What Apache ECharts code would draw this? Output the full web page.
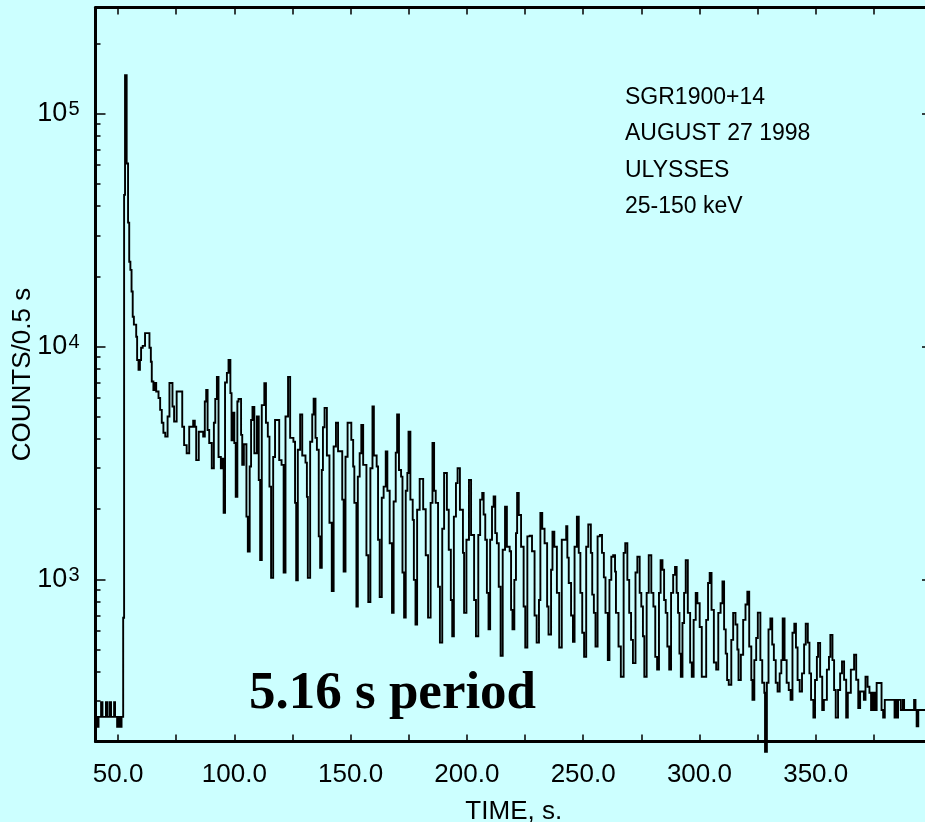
<!DOCTYPE html>
<html>
<head>
<meta charset="utf-8">
<title>SGR1900+14 light curve</title>
<script src="https://cdn.jsdelivr.net/npm/echarts@6/dist/echarts.min.js"></script>
<style>
  html, body { margin: 0; padding: 0; background: #ccffff; }
  #chart { width: 925px; height: 822px; }
</style>
</head>
<body>
<div id="chart"></div>
<script>
// Ulysses 25-150 keV light curve of the SGR1900+14 giant flare (1998 Aug 27).
// Step edges (s) and counts per 0.5 s for each step.
const times = [
  40.5, 40.9, 41.6, 42.7, 43.3, 44.8, 45.3, 46.3, 47.0, 48.3,
  48.7, 49.6, 50.2, 50.9, 51.5, 52.2, 52.6, 53.0, 53.7, 54.3,
  54.8, 55.3, 55.8, 56.3, 56.8, 57.8, 58.2, 58.8, 59.4, 59.9,
  60.6, 61.6, 63.5, 64.1, 64.5, 65.2, 65.9, 66.4, 67.4, 68.1,
  68.8, 69.5, 70.3, 71.3, 72.1, 73.4, 74.1, 75.2, 77.6, 78.4,
  79.5, 80.6, 82.3, 83.0, 83.6, 84.7, 86.6, 87.3, 87.9, 88.5,
  89.2, 90.3, 91.2, 91.8, 92.5, 93.2, 94.2, 94.7, 95.4, 96.0,
  96.8, 97.5, 98.3, 98.8, 99.4, 100.0, 100.6, 101.3, 101.8, 102.9,
  103.4, 104.1, 105.2, 105.8, 106.6, 107.2, 107.8, 108.6, 109.7, 110.5,
  111.1, 111.8, 112.9, 113.6, 114.4, 115.1, 115.8, 116.7, 117.5, 119.3,
  120.3, 121.2, 122.0, 123.1, 124.0, 125.4, 126.1, 126.6, 127.3, 128.3,
  129.2, 130.6, 131.2, 131.6, 132.6, 133.5, 134.1, 134.9, 135.5, 136.3,
  136.9, 137.6, 138.1, 138.8, 139.8, 140.9, 141.9, 142.7, 143.7, 144.6,
  146.4, 147.0, 147.8, 148.7, 150.3, 151.1, 151.6, 152.5, 153.1, 153.9,
  154.6, 155.4, 156.8, 157.6, 158.5, 159.4, 160.0, 161.2, 161.8, 162.5,
  163.4, 164.2, 165.1, 165.8, 166.8, 167.8, 168.5, 169.4, 170.0, 170.8,
  171.7, 172.3, 173.0, 173.7, 174.4, 174.9, 175.7, 176.7, 177.2, 177.9,
  178.6, 179.7, 181.2, 182.3, 183.3, 184.4, 185.2, 185.9, 186.6, 187.6,
  188.4, 189.4, 190.2, 191.4, 192.2, 193.1, 193.7, 194.4, 195.3, 196.0,
  197.0, 198.3, 198.8, 199.8, 200.9, 201.8, 203.1, 203.9, 204.9, 205.7,
  206.6, 207.2, 207.9, 208.6, 209.3, 210.0, 210.8, 211.5, 212.2, 212.9,
  213.7, 214.5, 215.4, 216.4, 217.2, 218.4, 219.0, 219.6, 220.4, 221.1,
  221.6, 222.3, 223.3, 224.4, 225.1, 226.0, 227.0, 228.0, 229.1, 230.0,
  231.0, 231.6, 232.4, 233.4, 234.5, 235.1, 236.2, 236.8, 237.6, 238.7,
  239.7, 240.8, 242.7, 243.2, 243.8, 244.8, 245.6, 246.3, 247.3, 248.1,
  248.8, 249.6, 250.4, 251.3, 252.2, 253.3, 253.9, 254.6, 255.3, 256.2,
  257.2, 258.1, 258.9, 259.6, 260.6, 261.3, 262.1, 262.9, 263.7, 264.1,
  265.2, 266.2, 267.4, 268.1, 269.0, 269.8, 270.6, 271.4, 272.5, 273.3,
  274.3, 275.0, 275.7, 276.3, 277.3, 278.2, 279.3, 280.2, 281.0, 281.8,
  282.6, 283.3, 284.1, 284.8, 285.5, 286.2, 287.0, 287.8, 288.7, 289.5,
  290.2, 290.8, 291.4, 292.0, 292.7, 293.4, 294.1, 295.0, 296.0, 296.7,
  297.5, 298.4, 299.1, 300.1, 301.0, 302.9, 303.7, 304.4, 305.2, 306.2,
  307.2, 308.1, 309.1, 309.9, 310.6, 311.3, 311.9, 312.6, 313.7, 314.5,
  315.5, 316.3, 316.8, 317.8, 318.8, 319.8, 320.6, 321.4, 322.3, 322.8,
  323.6, 324.4, 325.1, 326.2, 327.0, 327.9, 328.2, 329.0, 329.7, 330.5,
  331.3, 332.0, 332.8, 333.6, 334.5, 335.2, 335.8, 336.6, 337.5, 338.4,
  339.2, 340.0, 340.8, 341.5, 342.2, 343.1, 344.1, 345.0, 345.7, 346.6,
  347.3, 348.0, 349.0, 349.7, 350.5, 351.0, 351.9, 352.8, 353.5, 354.8,
  355.7, 356.3, 357.2, 357.9, 358.6, 359.6, 360.5, 361.3, 362.2, 363.1,
  363.8, 365.1, 366.5, 367.4, 368.3, 369.1, 370.7, 371.4, 372.3, 373.1,
  373.8, 374.6, 375.4, 376.2, 378.3, 379.0, 379.7, 383.9, 384.3, 385.0,
  385.4, 386.6, 387.5, 388.0, 392.3, 392.9, 393.4, 394.1, 400.0
];
const counts = [
  257, 233, 257, 297, 257, 297, 257, 297, 257, 297,
  257, 233, 257, 233, 257, 684, 44700, 146000, 61000, 34000,
  23100, 21300, 17200, 13400, 12400, 11000, 8750, 7930, 8750, 9870,
  10050, 11400, 9870, 8600, 7070, 6500, 6970, 6400, 6010, 5340,
  4700, 4260, 4100, 5000, 6970, 5520, 4760, 6400, 4520, 3770,
  3480, 4520, 4800, 4520, 3250, 4300, 4100, 5800, 6500, 4380,
  3850, 3000, 4700, 5950, 7400, 3350, 3000, 3300, 1930, 7000,
  7700, 8750, 6300, 3950, 5200, 3850, 2260, 5800, 5950, 4170,
  3100, 3800, 1860, 1315, 3050, 4830, 5500, 3480, 5000, 2670,
  1210, 5600, 6950, 4700, 4100, 2500, 1015, 3350, 4830, 3250,
  3100, 1070, 5000, 7400, 4050, 3900, 2130, 990, 3600, 5100,
  3400, 3170, 2260, 1015, 3900, 5100, 5970, 4050, 3600, 1530,
  1120, 2950, 4500, 5450, 3400, 1750, 890, 3720, 4700, 3550,
  2200, 1080, 3360, 4700, 3970, 3050, 2130, 765, 2760, 3480,
  4600, 3100, 1270, 800, 3000, 5520, 3400, 3050, 1480, 840,
  2240, 2500, 3540, 2400, 1430, 718, 2160, 3500, 5100, 2950,
  2760, 1070, 685, 2400, 2860, 4300, 2200, 1800, 995, 640,
  1990, 2700, 2000, 1270, 685, 2130, 3850, 2400, 2130, 930,
  535, 1650, 2860, 1990, 1340, 815, 570, 1860, 2590, 3000,
  1990, 1300, 718, 1480, 2670, 1550, 815, 570, 1550, 2200,
  2350, 1900, 1480, 875, 610, 1480, 2050, 2270, 1580, 1430,
  930, 470, 1340, 2050, 1380, 1320, 740, 610, 995, 1580,
  2350, 1890, 1380, 765, 510, 1530, 1540, 1320, 700, 535,
  815, 1930, 1650, 1430, 765, 580, 1100, 1600, 1380, 875,
  510, 1480, 1690, 1240, 965, 700, 540, 1380, 1860, 1300,
  875, 590, 465, 1380, 1720, 1300, 860, 718, 515, 1530,
  1550, 1300, 1020, 718, 450, 995, 1250, 1270, 1080, 718,
  515, 382, 1300, 1430, 995, 718, 550, 437, 1070, 1250,
  875, 765, 570, 382, 875, 1270, 875, 765, 465, 410,
  875, 1210, 1100, 815, 718, 515, 410, 875, 1045, 1130,
  875, 718, 480, 382, 650, 875, 1210, 718, 440, 382,
  670, 875, 790, 625, 382, 670, 965, 1065, 740, 440,
  410, 718, 790, 980, 610, 480, 370, 353, 550, 718,
  640, 500, 370, 475, 670, 780, 886, 515, 370, 304,
  450, 560, 720, 450, 360, 326, 182, 360, 610, 680,
  525, 450, 360, 330, 395, 450, 680, 450, 360, 335,
  304, 590, 645, 510, 370, 330, 395, 525, 645, 535,
  395, 304, 255, 370, 465, 533, 382, 275, 304, 410,
  465, 578, 450, 335, 255, 335, 395, 444, 371, 255,
  326, 410, 475, 371, 280, 330, 304, 382, 346, 326,
  275, 326, 275, 359, 275, 255, 304, 255, 304, 255,
  304, 275, 304, 275, 304, 275, 234, 275, 275
];

// Axis ticks and labels
const timeTicks = [50, 75, 100, 125, 150, 175, 200, 225, 250, 275, 300, 325, 350, 375, 400];
const timeLabels = [50, 100, 150, 200, 250, 300, 350];
const countMajor = [1e3, 1e4, 1e5];
const countMinor = [300, 400, 500, 600, 700, 800, 900,
  2000, 3000, 4000, 5000, 6000, 7000, 8000, 9000,
  20000, 30000, 40000, 50000, 60000, 70000, 80000, 90000, 200000];

const infoLines = ['SGR1900+14', 'AUGUST 27 1998', 'ULYSSES', '25-150 keV'];

const T_MIN = 40.3, T_MAX = 400;
const C_MIN = 201.4, C_MAX = 285000;
const SANS = '"Liberation Sans", Arial, sans-serif';

// Histogram outline: each count holds from its own edge to the next edge.
const histData = [];
for (let i = 0; i < times.length; i++) {
  histData.push([times[i], counts[i]]);
  if (i + 1 < times.length) histData.push([times[i + 1], counts[i]]);
}

const chart = echarts.init(document.getElementById('chart'), null, { renderer: 'canvas' });

function timeAxis(pos, withLabels) {
  return {
    type: 'value', position: pos, min: T_MIN, max: T_MAX,
    axisLine: { show: true, onZero: false, lineStyle: { color: '#000', width: 3 } },
    axisTick: { show: true, inside: true, length: 7, customValues: timeTicks,
      lineStyle: { color: '#000', width: 1.5 } },
    axisLabel: withLabels ? {
      show: true, customValues: timeLabels, margin: 20,
      formatter: v => v.toFixed(1),
      color: '#000', fontFamily: SANS, fontSize: 26
    } : { show: false },
    splitLine: { show: false },
    name: withLabels ? 'TIME, s.' : '',
    nameLocation: 'middle', nameGap: 57, nameMoveOverlap: false,
    nameTextStyle: { color: '#000', fontFamily: SANS, fontSize: 26 }
  };
}

function countAxis(pos, ticks, len, withLine, withLabels) {
  return {
    type: 'log', logBase: 10, position: pos, min: C_MIN, max: C_MAX,
    axisLine: { show: withLine, onZero: false, lineStyle: { color: '#000', width: 3 } },
    axisTick: { show: true, inside: true, length: len, customValues: ticks,
      lineStyle: { color: '#000', width: 1.5 } },
    axisLabel: withLabels ? {
      show: true, customValues: countMajor, margin: 16,
      formatter: v => '10{sup|' + Math.round(Math.log10(v)) + '}',
      color: '#000', fontFamily: SANS, fontSize: 27,
      rich: { sup: { fontSize: 20, fontFamily: SANS, color: '#000', verticalAlign: 'top', padding: [0, 0, 0, 1] } }
    } : { show: false },
    splitLine: { show: false },
    minorTick: { show: false },
    name: withLabels ? 'COUNTS/0.5 s' : '',
    nameLocation: 'middle', nameRotate: 90, nameGap: 60, nameMoveOverlap: false,
    nameTextStyle: { color: '#000', fontFamily: SANS, fontSize: 26 }
  };
}

const graphics = infoLines.map((s, i) => ({
  type: 'text', left: 625, top: 86 + i * 36.5,
  style: { text: s, fill: '#000', font: '23px ' + SANS }
}));
graphics.push({
  type: 'text', left: 249, top: 668,
  style: { text: '5.16 s period', fill: '#000',
    font: 'bold 53px "Liberation Serif", "Times New Roman", serif' }
});

// The outline is drawn as one polyline, every vertex placed through the axes.
function renderHistogram(params, api) {
  if (params.dataIndex !== 0) return null;
  const pts = histData.map(d => api.coord(d));
  return {
    type: 'polyline',
    shape: { points: pts },
    style: { stroke: '#000', lineWidth: 1.9, fill: null, lineJoin: 'miter' },
    silent: true
  };
}

chart.setOption({
  backgroundColor: '#ccffff',
  animation: false,
  grid: { left: 95.5, top: 7.5, right: -7, bottom: 80.5, containLabel: false, outerBoundsMode: 'none' },
  xAxis: [timeAxis('bottom', true), timeAxis('top', false)],
  yAxis: [
    countAxis('left', countMajor, 10, true, true),
    countAxis('left', countMinor, 5, false, false),
    countAxis('right', countMajor, 10, true, false),
    countAxis('right', countMinor, 5, false, false)
  ],
  series: [{
    type: 'custom', xAxisIndex: 0, yAxisIndex: 0,
    data: histData, clip: false,
    renderItem: renderHistogram
  }],
  graphic: graphics
});
</script>
</body>
</html>
